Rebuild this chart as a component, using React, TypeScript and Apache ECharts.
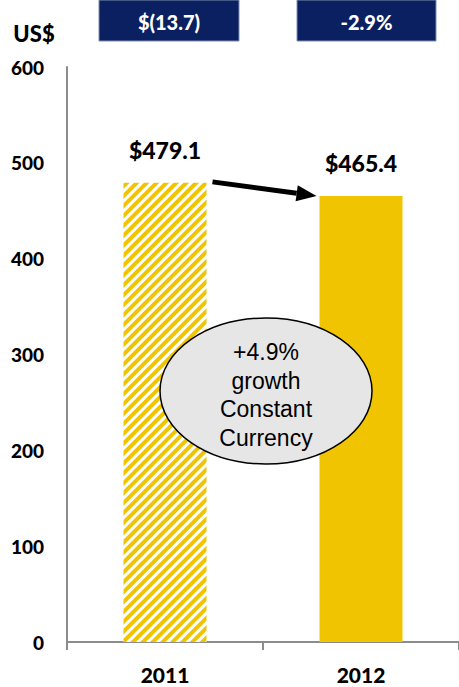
import React, { useEffect, useRef } from "react";
import * as echarts from "echarts";

const categories = ["2011", "2012"];
const values = [479.1, 465.4];
const valueLabels = ["$479.1", "$465.4"];
const boxLabels = ["$(13.7)", "-2.9%"];
const ellipseLines = ["+4.9%", "growth", "Constant", "Currency"];
const unitLabel = "US$";

const YELLOW = "#F0C400";
const NAVY = "#0B2060";
const AXIS = "#8C8C8C";
const FONT = "Lato, 'Open Sans', sans-serif";

export default function App() {
  const ref = useRef<HTMLDivElement>(null);
  useEffect(() => {
    if (!ref.current) return;
    const chart = echarts.init(ref.current, undefined, { renderer: "svg" });
    const option: any = {
      animation: false,
      grid: { left: 67, right: -2, top: 67, bottom: 45, containLabel: false },
      xAxis: {
        type: "category",
        data: categories,
        axisLine: { lineStyle: { color: AXIS, width: 2 } },
        axisTick: { show: true, length: 8, lineStyle: { color: AXIS, width: 2 } },
        axisLabel: { color: "#000", fontWeight: 900, fontSize: 21, fontFamily: FONT, margin: 22 },
      },
      yAxis: {
        type: "value",
        min: 0,
        max: 600,
        interval: 100,
        axisLine: { show: true, lineStyle: { color: AXIS, width: 2 } },
        axisTick: { show: false },
        splitLine: { show: false },
        axisLabel: { color: "#000", fontWeight: 900, fontSize: 19, fontFamily: FONT, margin: 23 },
      },
      series: [
        {
          type: "bar",
          barWidth: 83,
          data: values.map((v, i) =>
            i === 0
              ? {
                  value: v,
                  itemStyle: {
                    color: "#ffffff",
                    decal: {
                      symbol: "rect",
                      symbolSize: 1,
                      color: YELLOW,
                      dashArrayX: [1, 0],
                      dashArrayY: [4, 2.5],
                      rotation: -Math.PI / 4,
                    },
                  },
                }
              : { value: v, itemStyle: { color: YELLOW } }
          ),
          label: {
            show: true,
            position: "top",
            distance: 21,
            formatter: (p: any) => valueLabels[p.dataIndex],
            color: "#000",
            fontWeight: 900,
            fontSize: 23,
            fontFamily: FONT,
          },
        },
      ],
    };
    chart.setOption(option);

    const p1 = chart.convertToPixel({ seriesIndex: 0 }, [0, values[0]]) as number[];
    const p2 = chart.convertToPixel({ seriesIndex: 0 }, [1, values[1]]) as number[];
    const half = 83 / 2;
    const sx = p1[0] + half + 6;
    const sy = p1[1] - 1;
    const ex = p2[0] - half - 3;
    const ey = p2[1];
    const ang = Math.atan2(ey - sy, ex - sx);
    const headLen = 20;
    const headW = 8;
    const bx = ex - headLen * Math.cos(ang);
    const by = ey - headLen * Math.sin(ang);
    const nx = -Math.sin(ang);
    const ny = Math.cos(ang);

    const boxes = [
      { x: 99, w: 140 },
      { x: 297, w: 139 },
    ];

    chart.setOption({
      graphic: [
        ...boxes.map((b, i) => ({
          type: "group",
          z: 100,
          children: [
            {
              type: "rect",
              shape: { x: b.x, y: 0, width: b.w, height: 41 },
              style: { fill: NAVY, stroke: "#7f8fb0", lineWidth: 1 },
            },
            {
              type: "text",
              x: b.x + b.w / 2,
              y: 22,
              style: {
                text: boxLabels[i],
                fill: "#fff",
                font: `900 20px ${FONT}`,
                textAlign: "center",
                textVerticalAlign: "middle",
              },
            },
          ],
        })),
        {
          type: "text",
          z: 100,
          x: 34,
          y: 33,
          style: {
            text: unitLabel,
            fill: "#000",
            font: `900 22px ${FONT}`,
            textAlign: "center",
            textVerticalAlign: "middle",
          },
        },
        {
          type: "line",
          z: 100,
          shape: { x1: sx, y1: sy, x2: bx, y2: by },
          style: { stroke: "#000", lineWidth: 5 },
        },
        {
          type: "polygon",
          z: 100,
          shape: {
            points: [
              [ex, ey],
              [bx + nx * headW, by + ny * headW],
              [bx - nx * headW, by - ny * headW],
            ],
          },
          style: { fill: "#000" },
        },
        {
          type: "ellipse",
          z: 100,
          shape: { cx: 266, cy: 391, rx: 106, ry: 73 },
          style: { fill: "#E6E6E6", stroke: "#000", lineWidth: 1.5 },
        },
        ...ellipseLines.map((t, i) => ({
          type: "text",
          z: 101,
          x: 266,
          y: 352 + i * 28.5,
          style: {
            text: t,
            fill: "#000",
            font: `23px 'Liberation Sans', Arial, sans-serif`,
            textAlign: "center",
            textVerticalAlign: "middle",
          },
        })),
      ],
    });

    return () => chart.dispose();
  }, []);
  return (
    <div
      ref={ref}
      style={{ position: "fixed", left: 0, top: 0, width: 459, height: 687, background: "#fff" }}
    />
  );
}
